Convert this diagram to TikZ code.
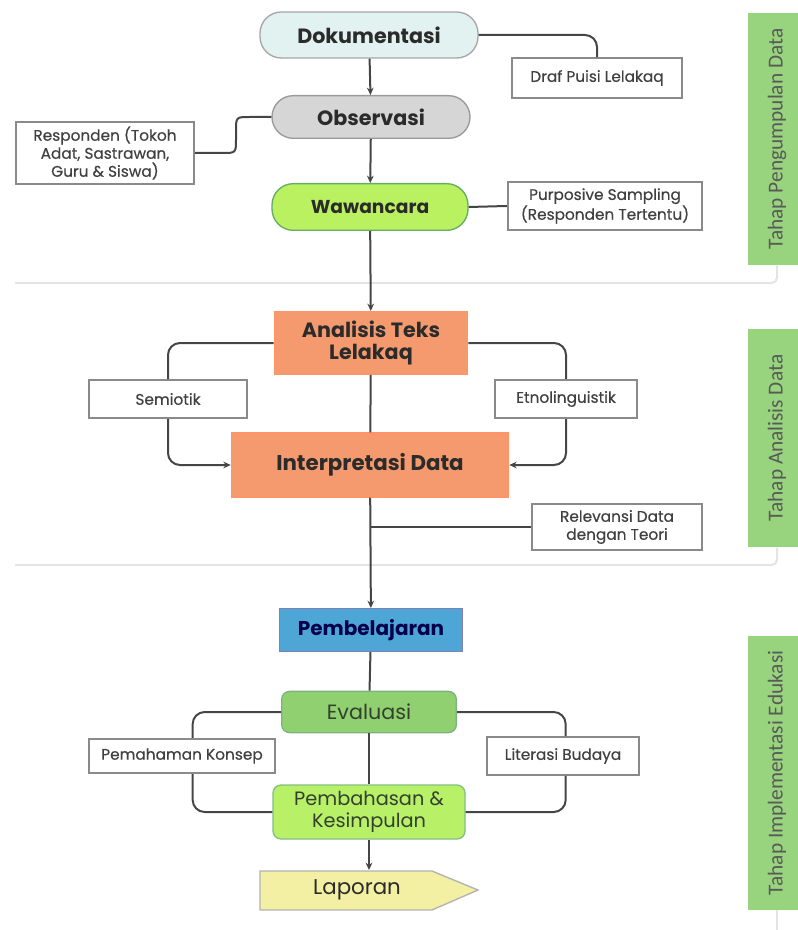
\documentclass[tikz,border=0pt]{standalone}
\usepackage{fontspec}
\setmainfont{Poppins}
\newfontfamily\notefont{Poppins}[FakeBold=0.4]
\newfontfamily\sidefont{Carlito}
\usetikzlibrary{arrows.meta}
\definecolor{lineclr}{HTML}{454545}
\definecolor{noteclr}{HTML}{8A8A8A}
\definecolor{divclr}{HTML}{E4E4E4}
\definecolor{txtclr}{HTML}{2B2B2B}
\definecolor{greentxt}{HTML}{34402E}
\definecolor{dokfill}{HTML}{E2F2F1}
\definecolor{obsfill}{HTML}{D6D6D6}
\definecolor{wawfill}{HTML}{B9F160}
\definecolor{anafill}{HTML}{F59A6E}
\definecolor{pemfill}{HTML}{4DA6D6}
\definecolor{evafill}{HTML}{90D070}
\definecolor{bahfill}{HTML}{B8F168}
\definecolor{lapfill}{HTML}{F3EFA3}
\definecolor{sidefill}{HTML}{98D47E}
\tikzset{conn/.style = {draw=lineclr, line width=1.5pt},
  arr/.style = {conn, -{Stealth[length=5.5pt, width=5pt]}},
  note/.style = {draw=noteclr, line width=1.3pt, fill=white, align=center, text=txtclr!90,
    font=\notefont\fontsize{11.5}{13.5}\selectfont, inner sep=2pt},
  pill/.style = {rounded corners=16pt, line width=1pt, align=center, text=txtclr,
    font=\bfseries\fontsize{15.5}{17}\selectfont},
  block/.style = {line width=1pt, align=center, text=txtclr,
    font=\fontsize{15.5}{17}\selectfont},
  sidebar/.style = {fill=sidefill, rotate=90, text=black!65,
    font=\sidefont\fontsize{16}{18}\selectfont},
  divider/.style = {draw=divclr, line width=1.5pt, rounded corners=4pt}}

\begin{document}
\begin{tikzpicture}[x=0.75pt, y=-0.75pt]
    \useasboundingbox (0, 0) rectangle (797, 930);

    % tahap labels
    \node (t1) [sidebar, minimum width=189pt, minimum height=43.5pt] at (777, 139) {Tahap Pengumpulan Data};
    \node (t2) [sidebar, minimum width=164pt, minimum height=43.5pt] at (777, 438) {Tahap Analisis Data};
    \node (t3) [sidebar, minimum width=205pt, minimum height=43.5pt] at (777, 773) {Tahap Implementasi Edukasi};
    \draw [divider] (15, 283) -| (t1.west);
    \draw [divider] (15, 565) -| (t2.west);
    \draw [divider] (t3.west) -- (777, 930);

    % pengumpulan data
    \node (dok) [pill, draw=gray!70, fill=dokfill, minimum width=163.5pt, minimum height=34.5pt] at (369, 35) {Dokumentasi};
    \node (obs) [pill, draw=gray!80, fill=obsfill, minimum width=148.5pt, minimum height=32pt] at (371, 117) {Observasi};
    \node (waw) [pill, draw=green!45!black!60, fill=wawfill, font=\bfseries\fontsize{14}{16}\selectfont, minimum width=147pt, minimum height=35pt] at (370, 207) {Wawancara};
    \node (draf) [note, minimum width=127pt, minimum height=30pt] at (597, 78) {Draf Puisi Lelakaq};
    \node (resp) [note, minimum width=134pt, minimum height=47pt] at (105, 153) {Responden (Tokoh\\Adat, Sastrawan,\\Guru \& Siswa)};
    \node (purp) [note, minimum width=146pt, minimum height=36pt] at (605, 206) {Purposive Sampling\\(Responden Tertentu)};

    \draw [arr] (dok) -- (obs);
    \draw [arr] (obs) -- (waw);
    \draw [conn, rounded corners=9pt] (dok.east) -| (draf.north);
    \draw [conn] (obs.west) -- (250, 117) .. controls (236, 117) .. (236, 131)
      -- (236, 139) .. controls (236, 153) .. (222, 153) -- (resp.east);
    \draw [conn] (waw.east) -- (purp.west);

    % analisis data
    \node (ana) [block, draw=orange!60!red!60, fill=anafill, font=\bfseries\fontsize{15.5}{17}\selectfont, minimum width=145pt, minimum height=47pt] at (371, 343) {Analisis Teks\\Lelakaq};
    \node (int) [block, draw=orange!60!red!60, fill=anafill, font=\bfseries\fontsize{16}{18}\selectfont, minimum width=208pt, minimum height=48pt] at (370, 465) {Interpretasi Data};
    \node (semi) [note, minimum width=118pt, minimum height=28.5pt] at (168, 399) {Semiotik};
    \node (etno) [note, minimum width=107pt, minimum height=29pt] at (566, 399) {Etnolinguistik};
    \node (rel) [note, minimum width=128pt, minimum height=34.5pt] at (617, 527) {Relevansi Data\\dengan Teori};

    \draw [arr] (waw) -- (ana);
    \draw [conn] (ana) -- (int);
    \draw [conn, rounded corners=9pt] (ana.west) -| (semi.north);
    \draw [arr, rounded corners=9pt] (semi.south) |- (int.west);
    \draw [conn, rounded corners=9pt] (ana.east) -| (etno.north);
    \draw [arr, rounded corners=9pt] (etno.south) |- (int.east);
    \draw [conn] (int.south |- rel.west) -- (rel.west);

    % implementasi edukasi
    \node (pem) [block, draw=blue!40!black!50, fill=pemfill, text=blue!30!black, font=\bfseries\fontsize{15}{17}\selectfont, minimum width=137pt, minimum height=32pt] at (371, 630) {Pembelajaran};
    \node (eva) [block, draw=green!40!black!50, fill=evafill, text=greentxt, rounded corners=6pt, minimum width=131pt, minimum height=31pt] at (369, 712) {Evaluasi};
    \node (bah) [block, draw=green!50!black!50, fill=bahfill, text=greentxt, font=\fontsize{14.5}{16}\selectfont, rounded corners=6pt, minimum width=144pt, minimum height=40.5pt] at (369, 812) {Pembahasan \&\\Kesimpulan};
    \node (konsep) [note, minimum width=139pt, minimum height=26pt] at (182, 756) {Pemahaman Konsep};
    \node (lit) [note, minimum width=114pt, minimum height=28.5pt] at (563, 756) {Literasi Budaya};
    \filldraw [fill=lapfill, draw=gray!60, line width=1pt] (260, 871) -- (432, 871) -- (478, 890) -- (432, 910) -- (260, 910) -- cycle;
    \node (lap) [block, font=\fontsize{16}{18}\selectfont, minimum width=129pt, minimum height=29pt] at (357, 890) {Laporan};

    \draw [arr] (int) -- (pem);
    \draw [conn] (pem) -- (eva);
    \draw [conn] (eva) -- (bah);
    \draw [conn, rounded corners=9pt] (eva.west) -| ([xshift=8pt]konsep.north);
    \draw [conn, rounded corners=9pt] ([xshift=8pt]konsep.south) |- (bah.west);
    \draw [conn, rounded corners=9pt] (eva.east) -| ([xshift=2pt]lit.north);
    \draw [conn, rounded corners=9pt] ([xshift=2pt]lit.south) |- (bah.east);
    \draw [arr] (bah.south) -- (bah.south |- lap.north);
  \end{tikzpicture}
\end{document}
